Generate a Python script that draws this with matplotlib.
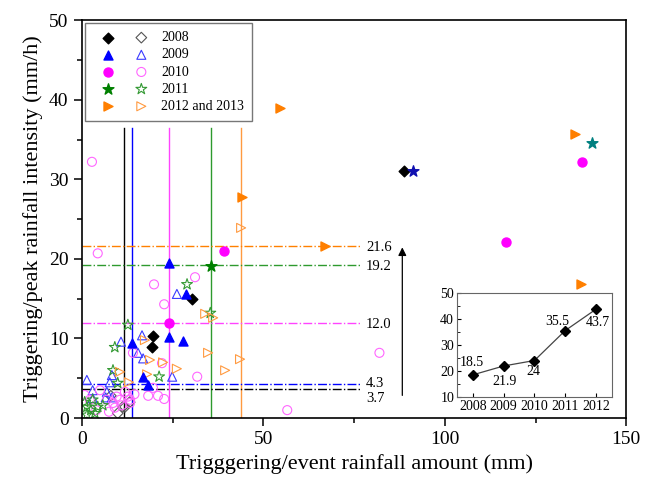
import matplotlib
matplotlib.use("Agg")
import matplotlib.pyplot as plt
from matplotlib.legend_handler import HandlerTuple
from matplotlib.ticker import MultipleLocator

plt.rcParams['font.family'] = ['Liberation Serif', 'DejaVu Serif']

# ---- data ----
y08_x = [19.6, 19.3, 30.4, 88.9]
y08_y = [10.3, 8.9, 15.0, 31.0]
y08o_x = [8.0, 11.3, 9.9, 11.9, 13.2]
y08o_y = [2.8, 1.4, 0.6, 1.4, 2.0]

y09_x = [24.0, 28.7, 24.0, 27.9, 13.8, 16.8, 18.3]
y09_y = [19.5, 15.6, 10.2, 9.7, 9.4, 5.2, 4.2]
y09o_x = [26.2, 16.6, 10.8, 15.5, 16.9, 24.9, 1.4, 8.3, 7.7, 3.0, 6.9, 8.3, 3.0, 6.6]
y09o_y = [15.6, 10.4, 9.6, 8.2, 7.5, 5.2, 4.8, 5.4, 4.5, 3.5, 3.3, 2.6, 2.5, 2.6]

y10_x = [24.0, 39.2, 116.9, 137.9]
y10_y = [11.9, 21.0, 22.1, 32.2]
y10o_x = [2.8, 4.4, 31.2, 19.9, 22.7, 14.1, 22.1, 31.8, 19.6, 18.3, 21.0, 22.7, 82.0, 56.6,
          0.8, 2.2, 5.0, 6.9, 8.6, 9.6, 10.5, 11.9, 13.3, 12.7, 9.1, 11.0, 13.3, 4.0, 7.5, 14.5]
y10o_y = [32.2, 20.7, 17.7, 16.8, 14.3, 8.2, 6.9, 5.2, 3.8, 2.8, 2.8, 2.4, 8.2, 1.0,
          2.9, 2.3, 3.5, 2.3, 1.9, 2.7, 2.3, 3.3, 2.3, 2.7, 1.3, 1.6, 1.9, 1.0, 0.8, 3.0]

y11_x = [35.6]
y11_y = [19.1]
y11o_x = [29.0, 35.4, 12.7, 9.1, 21.3, 8.6, 9.9, 1.4, 3.0, 4.4, 5.8, 3.6, 1.4, 0.8, 2.5]
y11o_y = [16.8, 13.2, 11.7, 8.9, 5.2, 6.0, 4.4, 1.4, 2.3, 1.4, 1.6, 0.6, 0.4, 2.0, 1.0]
star_navy = (91.2, 31.0)
star_teal = (140.6, 34.6)

y12_x = [54.7, 44.2, 67.0, 135.9, 137.6]
y12_y = [38.9, 27.8, 21.6, 35.7, 16.8]
y12o_x = [43.9, 34.0, 36.2, 17.4, 34.8, 43.6, 39.5, 26.2, 22.4, 18.8, 18.0, 10.5, 13.0]
y12o_y = [23.9, 13.1, 12.6, 9.8, 8.2, 7.4, 6.0, 6.2, 7.0, 7.3, 5.5, 5.8, 4.5]

vlines = [11.6, 13.8, 24.0, 35.5, 43.8]
hlines = [3.7, 4.3, 12.0, 19.2, 21.6]
hline_labels = ['3.7', '4.3', '12.0', '19.2', '21.6']
line_colors = ['black', 'blue', '#ff44ff', '#2e9a2e', '#ff9a40']
hline_colors = ['black', 'blue', '#ff44ff', '#2e9a2e', '#ff8000']

years = [2008, 2009, 2010, 2011, 2012]
amounts = [18.5, 21.9, 24, 35.5, 43.7]

fig = plt.figure(figsize=(6.49, 4.80), dpi=100)
ax = fig.add_axes([0.126, 0.129, 0.839, 0.829])

for x, c in zip(vlines, line_colors):
    ax.plot([x, x], [0, 36.5], color=c, lw=1.0, zorder=1)
label_dy = {'3.7': -1.3, '4.3': 0.1}
for y, c, lab in zip(hlines, hline_colors, hline_labels):
    ax.plot([0, 76.8], [y, y], color=c, lw=1.0, ls='-.', zorder=1)
    ax.text(78.3, y + label_dy.get(lab, -0.2), lab, fontsize=10.5, va='center', ha='left')

ax.annotate('', xy=(88.3, 21.8), xytext=(88.3, 2.5),
            arrowprops=dict(arrowstyle='-|>', color='black', lw=0.9, mutation_scale=12))

ms = 42
h08f = ax.scatter(y08_x, y08_y, marker='D', s=ms * 0.7, c='black', zorder=3)
h08o = ax.scatter(y08o_x, y08o_y, marker='D', s=ms * 0.7, facecolors='none', edgecolors='#555555', lw=0.8, zorder=2)
h09f = ax.scatter(y09_x, y09_y, marker='^', s=ms, c='blue', zorder=3)
h09o = ax.scatter(y09o_x, y09o_y, marker='^', s=ms, facecolors='none', edgecolors='#3a3aff', lw=0.8, zorder=2)
h10f = ax.scatter(y10_x, y10_y, marker='o', s=ms, c='#ff00ff', zorder=3)
h10o = ax.scatter(y10o_x, y10o_y, marker='o', s=ms, facecolors='none', edgecolors='#ff66ff', lw=0.8, zorder=2)
h11f = ax.scatter(y11_x, y11_y, marker='*', s=ms * 1.6, c='#008000', zorder=3)
h11o = ax.scatter(y11o_x, y11o_y, marker='*', s=ms * 1.6, facecolors='none', edgecolors='#339933', lw=0.8, zorder=2)
ax.scatter(*star_navy, marker='*', s=ms * 1.6, c='#1010b0', zorder=3)
ax.scatter(*star_teal, marker='*', s=ms * 1.6, c='#008080', zorder=3)
h12f = ax.scatter(y12_x, y12_y, marker='>', s=ms, c='#ff7f00', zorder=3)
h12o = ax.scatter(y12o_x, y12o_y, marker='>', s=ms, facecolors='none', edgecolors='#ff9a40', lw=0.8, zorder=2)

ax.set_xlim(0, 150)
ax.set_ylim(0, 50)
ax.xaxis.set_major_locator(MultipleLocator(50))
ax.xaxis.set_minor_locator(MultipleLocator(25))
ax.yaxis.set_major_locator(MultipleLocator(10))
ax.yaxis.set_minor_locator(MultipleLocator(5))
ax.tick_params(which='both', direction='out', top=False, right=False, labelsize=14, width=1.1)
ax.tick_params(which='major', length=6)
ax.tick_params(which='minor', length=3.5)
for s in ax.spines.values():
    s.set_linewidth(1.2)
ax.set_xlabel('Trigggering/event rainfall amount (mm)', fontsize=16)
ax.set_ylabel('Triggering/peak rainfall intensity (mm/h)', fontsize=16)

leg = ax.legend([(h08f, h08o), (h09f, h09o), (h10f, h10o), (h11f, h11o), (h12f, h12o)],
                ['2008', '2009', '2010', '2011', '2012 and 2013'],
                handler_map={tuple: HandlerTuple(ndivide=None, pad=0.15)},
                loc='upper left', bbox_to_anchor=(0.0, 1.0), borderaxespad=0.2,
                fontsize=10, handlelength=4.6, handletextpad=0.3,
                fancybox=False, edgecolor='#777777', framealpha=1, labelspacing=0.3,
                borderpad=0.6, scatterpoints=1)
leg.get_frame().set_linewidth(1.0)

# inset
ins = fig.add_axes([0.704, 0.173, 0.239, 0.217])
ins.plot(years, amounts, color='#444444', lw=0.9, marker='D', ms=5, mfc='black', mec='black')
ins.set_ylim(10, 50)
ins.set_xlim(2007.48, 2012.52)
ins.set_xticks(years)
ins.yaxis.set_major_locator(MultipleLocator(10))
ins.yaxis.set_minor_locator(MultipleLocator(5))
ins.tick_params(which='both', direction='in', top=False, right=False, labelsize=10, pad=2)
ins.tick_params(which='major', length=3)
ins.tick_params(which='minor', length=2)
for s in ins.spines.values():
    s.set_color('#666666')
offsets = [(-0.05, 4.6), (0.04, -6.0), (-0.02, -4.4), (-0.27, 3.3), (0.07, -5.0)]
for x, y, (dx, dy) in zip(years, amounts, offsets):
    ins.text(x + dx, y + dy, str(y), fontsize=10, ha='center', va='center')

fig.savefig('out.png', dpi=100)
